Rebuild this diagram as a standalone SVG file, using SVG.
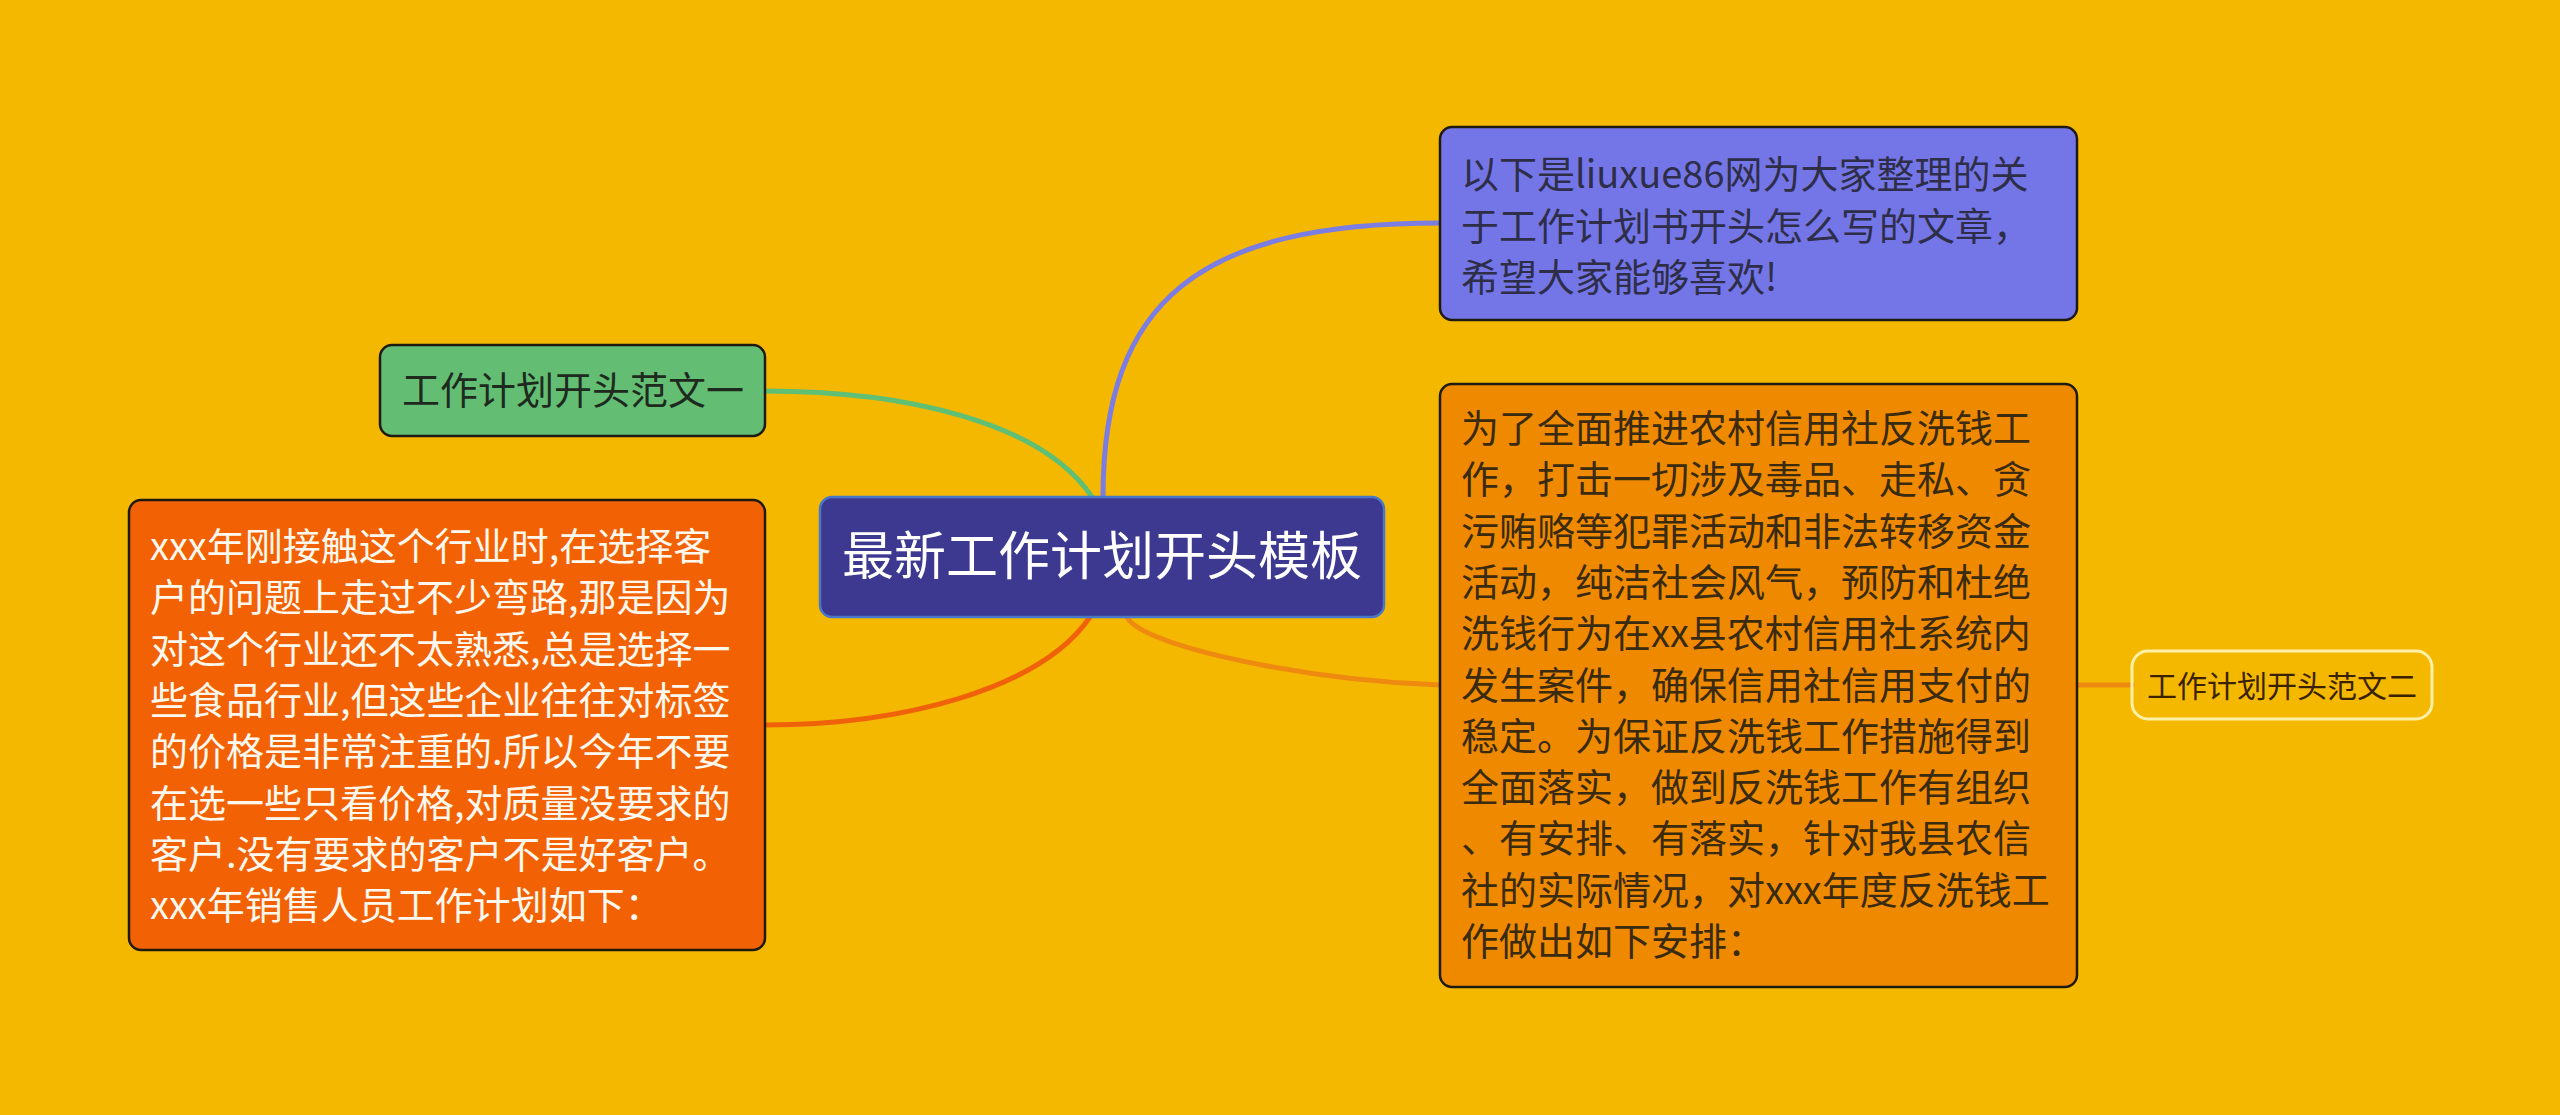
<svg xmlns="http://www.w3.org/2000/svg" width="2560" height="1115" viewBox="0 0 2560 1115">
<style>
.t{font-family:"Noto Sans CJK SC","Noto Sans",sans-serif;}
.body{font-size:38px;}
.edge{fill:none;stroke-width:5;stroke-linecap:round;}
.box{stroke:#1e1a12;stroke-width:2.5;}
</style>
<rect x="0" y="0" width="2560" height="1115" fill="#F5B800"/>
<g id="connectors">
<path class="edge" stroke="#7B7DE2" d="M1103,497 C1103,300 1200,223 1440,223"/>
<path class="edge" stroke="#EE8A10" d="M1127,617 C1140,645 1300,680 1440,685"/>
<path class="edge" stroke="#5EBF75" d="M1092,497 C1040,420 900,391 765,391"/>
<path class="edge" stroke="#F0620A" d="M1090,617 C1040,690 900,725 765,725"/>
<path class="edge" stroke="#EE8A10" d="M2077,685 L2132,685"/>
</g>
<g id="center">
<rect x="820" y="497" width="564" height="120" rx="12" fill="#3D3890" stroke="#4A78C8" stroke-width="2.5"/>
<text class="t" x="1102" y="575" font-size="52" fill="#FFFFFF" text-anchor="middle">最新工作计划开头模板</text>
</g>
<g id="node-intro">
<rect class="box" x="1440" y="127" width="637" height="193" rx="12" fill="#7476E8"/>
<text class="t body" fill="#2E2E48">
<tspan x="1461" y="188">以下是liuxue86网为大家整理的关</tspan>
<tspan x="1461" y="239.5">于工作计划书开头怎么写的文章，</tspan>
<tspan x="1461" y="291">希望大家能够喜欢!</tspan>
</text>
</g>
<g id="node-fanwen2-text">
<rect class="box" x="1440" y="384" width="637" height="603" rx="12" fill="#EF8A00"/>
<text class="t body" fill="#3A2A10">
<tspan x="1461" y="442">为了全面推进农村信用社反洗钱工</tspan>
<tspan x="1461" y="493.3">作，打击一切涉及毒品、走私、贪</tspan>
<tspan x="1461" y="544.6">污贿赂等犯罪活动和非法转移资金</tspan>
<tspan x="1461" y="595.9">活动，纯洁社会风气，预防和杜绝</tspan>
<tspan x="1461" y="647.2">洗钱行为在xx县农村信用社系统内</tspan>
<tspan x="1461" y="698.5">发生案件，确保信用社信用支付的</tspan>
<tspan x="1461" y="749.8">稳定。为保证反洗钱工作措施得到</tspan>
<tspan x="1461" y="801.1">全面落实，做到反洗钱工作有组织</tspan>
<tspan x="1461" y="852.4">、有安排、有落实，针对我县农信</tspan>
<tspan x="1461" y="903.7">社的实际情况，对xxx年度反洗钱工</tspan>
<tspan x="1461" y="955">作做出如下安排：</tspan>
</text>
</g>
<g id="node-fanwen2">
<rect x="2132" y="651" width="300" height="68" rx="16" fill="none" stroke="#FFF0A8" stroke-width="3"/>
<text class="t" x="2282" y="697" font-size="30" fill="#3A2200" text-anchor="middle">工作计划开头范文二</text>
</g>
<g id="node-fanwen1">
<rect class="box" x="380" y="345" width="385" height="91" rx="12" fill="#63BE74"/>
<text class="t" x="573" y="404" font-size="38" fill="#1F2A1F" text-anchor="middle">工作计划开头范文一</text>
</g>
<g id="node-fanwen1-text">
<rect class="box" x="129" y="500" width="636" height="450" rx="12" fill="#F26205"/>
<text class="t body" fill="#FFF8EE">
<tspan x="150" y="560">xxx年刚接触这个行业时,在选择客</tspan>
<tspan x="150" y="611.3">户的问题上走过不少弯路,那是因为</tspan>
<tspan x="150" y="662.6">对这个行业还不太熟悉,总是选择一</tspan>
<tspan x="150" y="713.9">些食品行业,但这些企业往往对标签</tspan>
<tspan x="150" y="765.2">的价格是非常注重的.所以今年不要</tspan>
<tspan x="150" y="816.5">在选一些只看价格,对质量没要求的</tspan>
<tspan x="150" y="867.8">客户.没有要求的客户不是好客户。</tspan>
<tspan x="150" y="919.1">xxx年销售人员工作计划如下：</tspan>
</text>
</g>
</svg>
